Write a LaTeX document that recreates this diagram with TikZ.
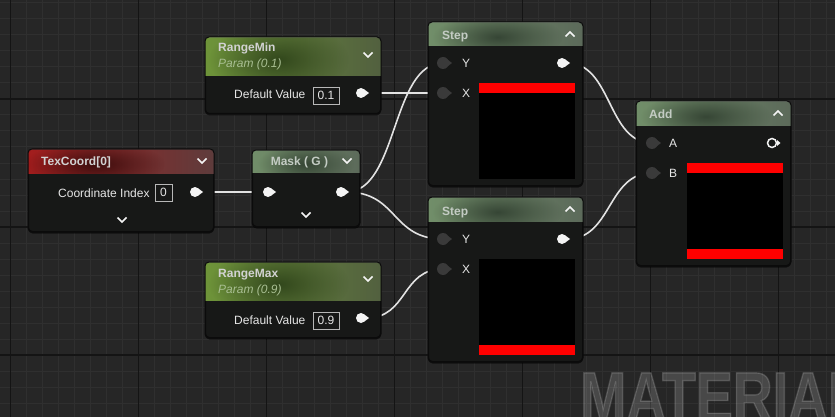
\documentclass[tikz,border=0pt]{standalone}
\usepackage{fontspec}
\setmainfont{Liberation Sans}
\newfontfamily\wmfont[FakeStretch=0.79,FakeBold=2]{Liberation Sans}
\usetikzlibrary{calc,fadings,shadows}
\definecolor{bgc}{HTML}{262626}
\definecolor{minorc}{HTML}{2F2F2F}
\definecolor{majorc}{HTML}{141414}
\definecolor{bodyc}{HTML}{171817}
\definecolor{borderc}{HTML}{0B0B0B}
\definecolor{wirec}{HTML}{E2E2E2}
\definecolor{pinw}{HTML}{F4F4F4}
\definecolor{pind}{HTML}{3A3A3A}
\definecolor{textc}{HTML}{E6E6E6}
\definecolor{titlec}{HTML}{D2D2D2}
\definecolor{steptitle}{HTML}{C4CCC4}
\definecolor{paramc}{HTML}{A9BF93}
\definecolor{redL}{HTML}{A31D1D}
\definecolor{redR}{HTML}{5E3C3C}
\definecolor{redB}{HTML}{2A0606}
\definecolor{grnL}{HTML}{6E9439}
\definecolor{grnR}{HTML}{52603F}
\definecolor{grnB}{HTML}{263A14}
\definecolor{stpL}{HTML}{718E69}
\definecolor{stpR}{HTML}{5C6A5A}
\definecolor{stpB}{HTML}{2A382A}
\definecolor{prev}{HTML}{FF0000}
\tikzfading[name=blob, inner color=transparent!0, outer color=transparent!100]
\pgfdeclarelayer{canvas}
\pgfdeclarelayer{wires}
\pgfsetlayers{canvas,wires,main}
\tikzset{
  minor/.style={draw=minorc, line width=1pt},
  major/.style={draw=majorc, line width=1.3pt},
  body/.style={draw=borderc, line width=1pt, fill=bodyc, rounded corners=4pt, inner sep=0pt,
    anchor=north west, drop shadow={shadow xshift=0pt, shadow yshift=-2pt, opacity=0.55, fill=black}},
  wire/.style={draw=wirec, line width=1.6pt},
  opin/.style={circle, fill=pinw, minimum size=10pt, inner sep=0pt},
  ipin/.style={circle, fill=pind, minimum size=12pt, inner sep=0pt},
  hpin/.style={circle, draw=pinw, fill=bodyc, line width=1.5pt, minimum size=9pt, inner sep=0pt},
  title/.style={anchor=base west, inner sep=0pt, font=\bfseries\fontsize{12}{14}\selectfont},
  lbl/.style={anchor=base west, inner sep=0pt, text=textc, font=\fontsize{12}{14}\selectfont},
  vbox/.style={draw=textc!80!black, line width=0.8pt, text=textc, inner sep=0pt,
    minimum width=#1, minimum height=17pt, font=\fontsize{12}{14}\selectfont},
  chev/.style={draw=pinw, line width=1.7pt},
}
\newcommand\uehead[7]{% node, header height, left, right, blob colour, blob x-fraction, blob x-radius
  \begin{scope}
    \clip[rounded corners=4pt] (#1.north west) rectangle (#1.south east);
    \shade[left color=#3, right color=#4] (#1.north west) rectangle ($(#1.north east)+(0,#2)$);
    \begin{scope}
    \clip (#1.north west) rectangle ($(#1.north east)+(0,#2)$);
    \fill[#5, fill opacity=0.8, path fading=blob, fit fading=true]
      ($(#1.north west)!#6!(#1.north east)+(0,#2/2+3)$) ellipse ({#7} and {#2*0.95});
    \end{scope}
    \draw[white, opacity=0.18, line width=1pt] ($(#1.north west)+(2,0.8)$) -- ($(#1.north east)+(-2,0.8)$);
  \end{scope}
  \draw[borderc, line width=1pt, rounded corners=4pt] (#1.north west) rectangle (#1.south east);
}
\newcommand\opinat[3]{%
  \node[opin] (#1) at (#2,#3) {};
  \fill[pinw] ($(#1.center)+(4,-3)$) -- ++(4,3) -- ++(-4,3) -- cycle;}
\newcommand\ipinat[3]{%
  \node[ipin] (#1) at (#2,#3) {};
  \fill[pind] ($(#1.center)+(5,-3)$) -- ++(4,3) -- ++(-4,3) -- cycle;}
\newcommand\chevdown[2]{\draw[chev] (#1-4.5,#2-2.5) -- (#1,#2+2) -- (#1+4.5,#2-2.5);}
\newcommand\chevup[2]{\draw[chev] (#1-4.5,#2+2.5) -- (#1,#2-2) -- (#1+4.5,#2+2.5);}
\begin{document}
\begin{tikzpicture}[x=1pt,y=-1pt]
\useasboundingbox (0,0) rectangle (835,417);
\begin{pgfonlayer}{canvas}
\fill[bgc] (0,0) rectangle (835,417);
\foreach \k in {0,...,51} \draw[minor] ({10.5+16*\k},0) -- ({10.5+16*\k},417);
\foreach \k in {0,...,25} \draw[minor] (0,{3+16*\k}) -- (835,{3+16*\k});
\foreach \k in {0,...,6} \draw[major] ({10.5+128*\k},0) -- ({10.5+128*\k},417);
\foreach \yy in {99,227,355} \draw[major] (0,\yy) -- (835,\yy);
\begin{scope}
\clip (0,0) rectangle (835,417);
\node[anchor=base west, inner sep=0pt, text=white, text opacity=0.16, font=\wmfont\bfseries\fontsize{70}{70}\selectfont] (wm) at (580,421) {MATERIAL};
\end{scope}
\end{pgfonlayer}

% ---------- TexCoord ----------
\node[body, minimum width=185pt, minimum height=82pt] (texcoord) at (28,149) {};
\uehead{texcoord}{24}{redL}{redR}{redB}{0.36}{70}
\node[title, text=titlec] (texcoord-t) at (41,165.5) {TexCoord[0]};
\chevdown{202}{161}
\node[lbl] (texcoord-l) at (58,197) {Coordinate Index};
\node[vbox=17pt] (texcoord-v) at (163.5,192.5) {0};
\opinat{tex-out}{195}{192}
\chevdown{122}{220}

% ---------- RangeMin ----------
\node[body, minimum width=175pt, minimum height=76pt] (rmin) at (205,37) {};
\uehead{rmin}{39}{grnL}{grnR}{grnB}{0.42}{70}
\node[title, text=titlec] (rmin-t) at (218,52) {RangeMin};
\node[lbl, text=paramc, font=\itshape\fontsize{12}{14}\selectfont] (rmin-p) at (218,68) {Param (0.1)};
\chevdown{368}{55}
\node[lbl] (rmin-l) at (234,99) {Default Value};
\node[vbox=26pt] (rmin-v) at (326,95.5) {0.1};
\opinat{rmin-out}{361}{93}

% ---------- RangeMax ----------
\node[body, minimum width=175pt, minimum height=75pt] (rmax) at (205,262) {};
\uehead{rmax}{38}{grnL}{grnR}{grnB}{0.42}{70}
\node[title, text=titlec] (rmax-t) at (218,277) {RangeMax};
\node[lbl, text=paramc, font=\itshape\fontsize{12}{14}\selectfont] (rmax-p) at (218,293) {Param (0.9)};
\chevdown{368}{279}
\node[lbl] (rmax-l) at (234,324) {Default Value};
\node[vbox=26pt] (rmax-v) at (326,320.5) {0.9};
\opinat{rmax-out}{361}{318}

% ---------- Mask ----------
\node[body, minimum width=107pt, minimum height=76pt] (mask) at (252,150) {};
\uehead{mask}{22}{stpL}{stpR}{stpB}{0.5}{48}
\node[anchor=base, inner sep=0pt, text=steptitle, font=\bfseries\fontsize{12}{14}\selectfont] (mask-t) at (299.5,165.5) {Mask ( G )};
\chevdown{347}{161}
\opinat{mask-in}{268}{192}
\opinat{mask-out}{341}{192}
\chevdown{306}{215}

% ---------- Step 1 ----------
\node[body, minimum width=154pt, minimum height=163pt] (step1) at (428,22) {};
\uehead{step1}{24}{stpL}{stpR}{stpB}{0.45}{65}
\node[title, text=steptitle] (step1-t) at (442,39.5) {Step};
\chevup{570}{34}
\ipinat{s1-y}{443}{63}
\ipinat{s1-x}{443}{93}
\node[lbl] (s1-yl) at (462,67.3) {Y};
\node[lbl] (s1-xl) at (462,97.3) {X};
\opinat{s1-out}{562}{63}
\fill[black] (479,83) rectangle (575,179);
\fill[prev] (479,83) rectangle (575,93);

% ---------- Step 2 ----------
\node[body, minimum width=154pt, minimum height=164pt] (step2) at (428,197) {};
\uehead{step2}{24}{stpL}{stpR}{stpB}{0.45}{65}
\node[title, text=steptitle] (step2-t) at (442,215) {Step};
\chevup{570}{209}
\ipinat{s2-y}{443}{239}
\ipinat{s2-x}{443}{269}
\node[lbl] (s2-yl) at (462,243.3) {Y};
\node[lbl] (s2-xl) at (462,273.3) {X};
\opinat{s2-out}{562}{239}
\fill[black] (479,259) rectangle (575,355);
\fill[prev] (479,345) rectangle (575,355);

% ---------- Add ----------
\node[body, minimum width=154pt, minimum height=164pt] (add) at (636,101) {};
\uehead{add}{25}{stpL}{stpR}{stpB}{0.45}{65}
\node[title, text=steptitle] (add-t) at (649,118.5) {Add};
\chevup{778}{113}
\ipinat{add-a}{652}{143}
\ipinat{add-b}{652}{173}
\node[lbl] (add-al) at (669,147.3) {A};
\node[lbl] (add-bl) at (669,177.3) {B};
\node[hpin] (add-out) at (772,143) {};
\fill[pinw] ($(add-out.center)+(5,-3)$) -- ++(3.5,3) -- ++(-3.5,3) -- cycle;
\fill[black] (687,163) rectangle (783,259);
\fill[prev] (687,163) rectangle (783,173);
\fill[prev] (687,249) rectangle (783,259);

% ---------- wires ----------
\begin{pgfonlayer}{wires}
\draw[wire] (tex-out.east) -- (mask-in.west);
\draw[wire] (mask-out.east) .. controls +(52,0) and +(-52,0) .. (s1-y.center);
\draw[wire] (mask-out.east) .. controls +(52,0) and +(-52,0) .. (s2-y.center);
\draw[wire] (rmin-out.east) -- (s1-x.center);
\draw[wire] (rmax-out.east) .. controls +(42,0) and +(-42,0) .. (s2-x.center);
\draw[wire] (s1-out.east) .. controls +(45,0) and +(-45,0) .. (add-a.center);
\draw[wire] (s2-out.east) .. controls +(45,0) and +(-45,0) .. (add-b.center);
\end{pgfonlayer}
\end{tikzpicture}
\end{document}
